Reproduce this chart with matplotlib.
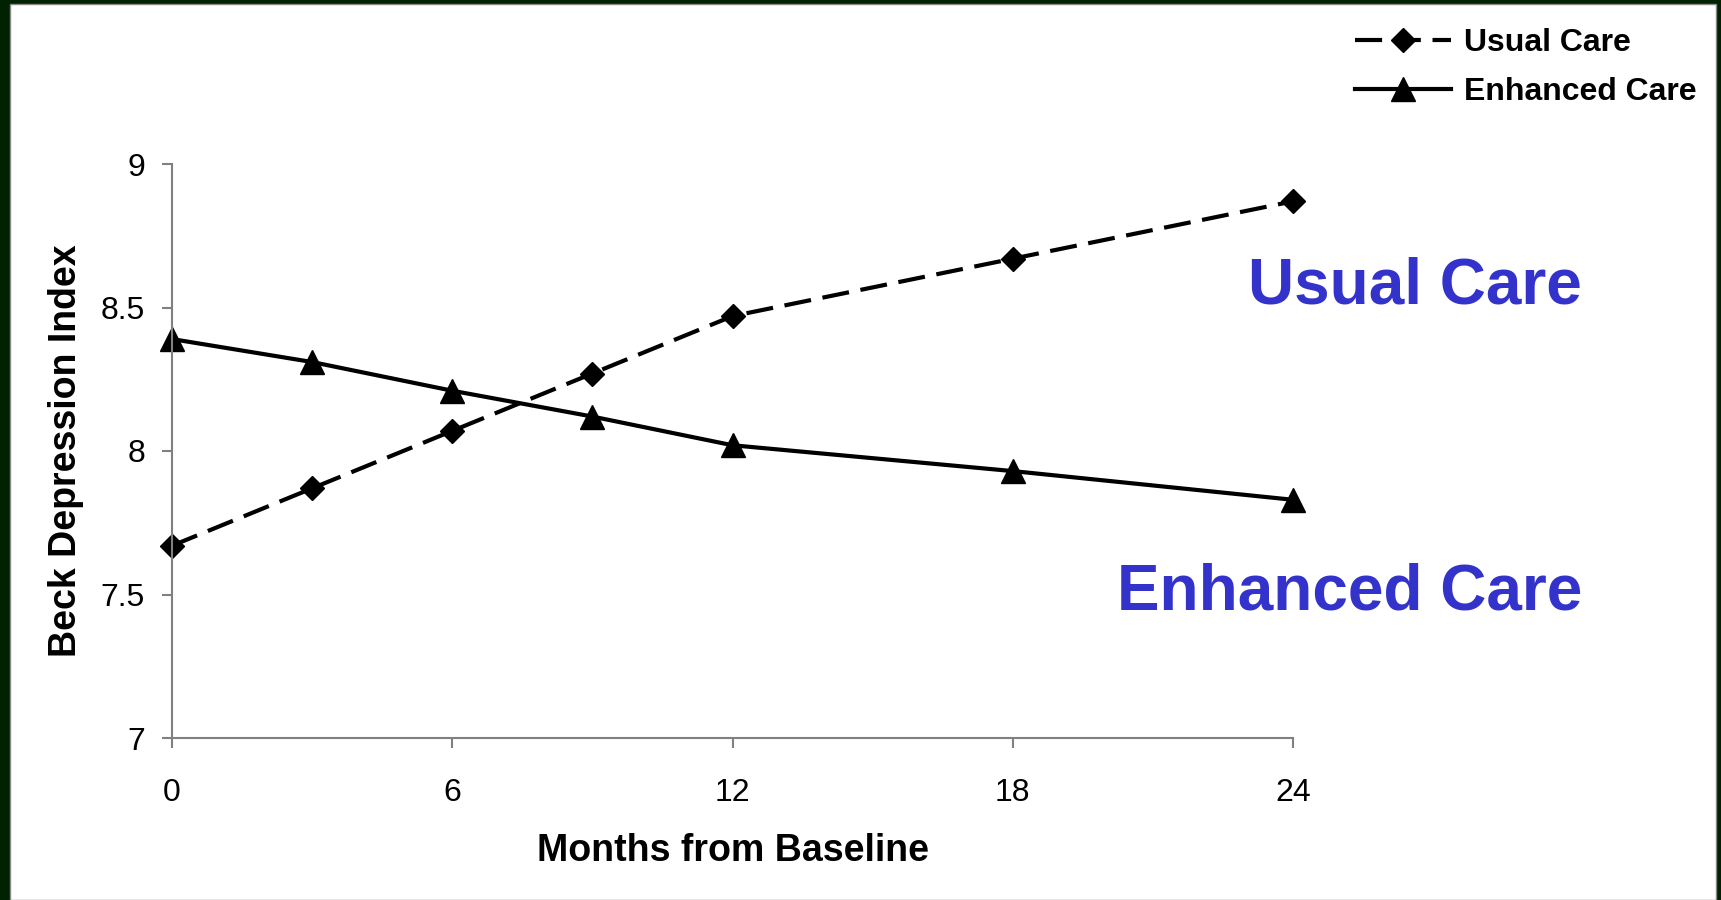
import matplotlib
matplotlib.use("Agg")
import matplotlib.pyplot as plt
from matplotlib.patches import Rectangle

months = [0, 3, 6, 9, 12, 18, 24]
usual_care = [7.67, 7.87, 8.07, 8.27, 8.47, 8.67, 8.87]
enhanced_care = [8.39, 8.31, 8.21, 8.12, 8.02, 7.93, 7.83]
x_ticks = [0, 6, 12, 18, 24]
y_ticks = [7, 7.5, 8, 8.5, 9]
y_tick_labels = ["7", "7.5", "8", "8.5", "9"]

plt.rcParams["font.family"] = ["Liberation Sans", "DejaVu Sans"]

W, H = 1721, 900
fig = plt.figure(figsize=(W / 100, H / 100), dpi=100)
fig.patch.set_facecolor("#002200")
# white slide area inside the dark green frame
fig.patches.append(Rectangle((10 / W, 0), (1716 - 10) / W, (H - 4) / H,
                             transform=fig.transFigure, facecolor="white",
                             edgecolor="#888888", linewidth=1, zorder=-10))

ax = fig.add_axes([172 / W, 1 - 738 / H, (1293 - 172) / W, (738 - 164) / H])
ax.set_facecolor("none")

l1, = ax.plot(months, usual_care, color="black", lw=3, marker="D", ms=12.5,
              label="Usual Care", clip_on=False)
l1.set_dashes([6.5, 2.8])
l2, = ax.plot(months, enhanced_care, color="black", lw=3, marker="^", ms=17,
              label="Enhanced Care", clip_on=False)

ax.set_xlim(0, 24)
ax.set_ylim(7, 9)
ax.set_xticks(x_ticks)
ax.set_yticks(y_ticks)
ax.set_yticklabels(y_tick_labels)
for s in ["top", "right"]:
    ax.spines[s].set_visible(False)
for s in ["left", "bottom"]:
    ax.spines[s].set_color("#808080")
    ax.spines[s].set_linewidth(1.5)
ax.tick_params(axis="both", direction="out", length=7.5, width=1.5,
               color="#808080", labelsize=23)
ax.tick_params(axis="x", pad=21)
ax.tick_params(axis="y", pad=12)

ax.set_xlabel("Months from Baseline", fontsize=27, fontweight="bold", labelpad=18)
ax.set_ylabel("Beck Depression Index", fontsize=27, fontweight="bold", labelpad=12)

fig.text(1582 / W, 1 - 304 / H, "Usual Care", color="#3333CC", fontsize=46,
         fontweight="bold", ha="right", va="baseline")
fig.text(1582 / W, 1 - 609 / H, "Enhanced Care", color="#3333CC", fontsize=46,
         fontweight="bold", ha="right", va="baseline")

fig.legend(handles=[l1, l2], loc="upper left", bbox_to_anchor=(1355 / W, 1 - 28 / H),
           frameon=False, prop={"weight": "bold", "size": 23},
           handlelength=3.0, handletextpad=0.4, borderpad=0, borderaxespad=0,
           labelspacing=0.6)

fig.savefig("out.png", dpi=100, facecolor=fig.get_facecolor())
